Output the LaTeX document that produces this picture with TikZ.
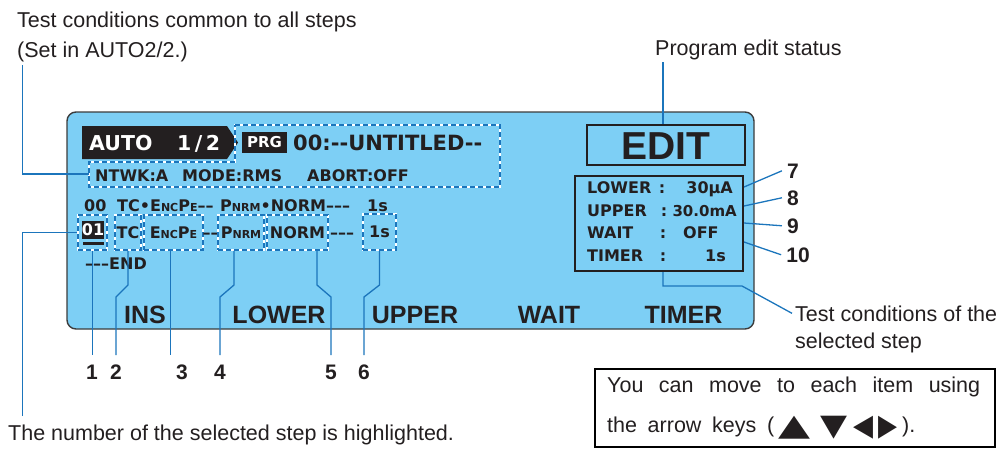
\documentclass[tikz,border=0pt]{standalone}
\usepackage{fontspec}
\usepackage{graphicx}
\setmainfont{Liberation Sans}
\newfontfamily\dispfont{DejaVu Sans}
\newfontfamily\symfont{DejaVu Sans}
\definecolor{panel}{RGB}{125,207,245}
\definecolor{lead}{RGB}{27,117,188}
\definecolor{ink}{RGB}{35,31,32}
\definecolor{panelline}{RGB}{60,60,60}
\newcommand{\dsz}[1]{\dispfont\bfseries\fontsize{#1}{#1}\selectfont}
\newcommand{\smc}[1]{{\fontsize{11}{11}\selectfont #1}}
\newcommand{\tri}[3]{\resizebox*{#1}{#2}{\symfont #3}}
\tikzset{
  lbl/.style={font=\fontsize{21.5}{26}\selectfont, text=ink, inner sep=0pt, anchor=base west},
  dsp/.style={font=\dsz{16}, text=ink, inner sep=0pt},
  dbox/.style={draw=lead, line width=1.6pt, dash pattern=on 5pt off 3pt,
    preaction={draw=white, solid, line width=1.6pt}, inner sep=0pt,
    text height=11.5pt, text depth=0pt},
  leader/.style={draw=lead, line width=1.3pt},
  num/.style={font=\bfseries\fontsize{21}{21}\selectfont, text=ink, inner sep=0pt, anchor=base},
  skey/.style={font=\bfseries\fontsize{25}{25}\selectfont, text=ink, inner sep=0pt, anchor=base},
}
\begin{document}
\begin{tikzpicture}[x=1pt,y=-1pt]
\useasboundingbox (0,0) rectangle (1005,451);
% panel
\draw[draw=panelline, line width=1.4pt, fill=panel, rounded corners=9pt] (67,112) rectangle (754,329);
% AUTO tab
\fill[ink] (82,126) -- (227,126) -- (238,142.5) -- (227,159) -- (82,159) -- cycle;
\node[font=\dsz{20.5}, text=white, inner sep=0pt, anchor=base west] (auto) at (89,150) {AUTO};
\node[font=\dsz{20.5}, text=white, inner sep=0pt, anchor=base west] (page) at (177,150) {1\,/\,2};
% dashed outline of common conditions
\draw[white, line width=1.6pt] (235,125) -- (500,125) -- (500,187) -- (89,187) -- (89,162) -- (235,162) -- cycle;
\draw[lead, line width=1.6pt, dash pattern=on 5pt off 3pt] (235,125) -- (500,125) -- (500,187) -- (89,187) -- (89,162) -- (235,162) -- cycle;
\node[fill=ink, text=white, font=\dsz{15}, minimum width=45pt, minimum height=21pt, inner sep=0pt] (prg) at (264.5,142.5) {PRG};
\node[font=\dsz{21}, text=ink, inner sep=0pt, anchor=base west] (title) at (293,150) {00:-{}-UNTITLED-{}-};
\node[dsp, anchor=base west] (ntwk) at (95,181) {NTWK:A};
\node[dsp, anchor=base west] (mode) at (182,181) {MODE:RMS};
\node[dsp, anchor=base west] (abort) at (307,181) {ABORT:OFF};
% row 1
\node[dsp, anchor=base west] (r1a) at (84,211) {00};
\node[dsp, anchor=base west] (r1b) at (117,211) {TC•E\smc{NC}P\smc{E}––};
\node[dsp, anchor=base west] (r1c) at (220,211) {P\smc{NRM}•NORM–––};
\node[dsp, anchor=base west] (r1d) at (367,211) {1s};
% row 2
\node[dsp, dbox, minimum width=29pt, minimum height=35pt] (b01) at (92.5,232.5) {};
\node[fill=ink, text=white, font=\dsz{16}, inner sep=0pt, minimum width=20pt, minimum height=18pt] (sel) at (93,230) {01};
\fill[ink] (83,242) rectangle (104,245);
\node[dsp, dbox, minimum width=26pt, minimum height=35pt] (btc) at (128,232.5) {TC};
\node[dsp, dbox, minimum width=59pt, minimum height=35pt] (benc) at (173.5,232.5) {E\smc{NC}P\smc{E}};
\node[dsp, anchor=base] (d1) at (210.5,238) {––};
\node[dsp, dbox, minimum width=46pt, minimum height=35pt] (bpn) at (241,232.5) {P\smc{NRM}};
\node[dsp, dbox, minimum width=61pt, minimum height=35pt] (bnorm) at (297.5,232.5) {NORM};
\node[dsp, anchor=base] (d2) at (342,238) {–––};
\node[dsp, dbox, minimum width=33pt, minimum height=36pt] (b1s) at (379.5,232) {1s};
\node[dsp, anchor=base west] (endr) at (85,269) {–––END};
% soft keys
\node[skey] (kins) at (145,323) {INS};
\node[skey] (klow) at (279,323) {LOWER};
\node[skey] (kup) at (415,323) {UPPER};
\node[skey] (kwait) at (549,323) {WAIT};
\node[skey] (ktim) at (683.5,323) {TIMER};
% EDIT
\node[draw=ink, line width=2.2pt, minimum width=158pt, minimum height=40pt, inner sep=0pt,
  font=\bfseries\fontsize{39}{39}\selectfont, text=ink, text height=28pt, text depth=0pt] (edit) at (666,145) {EDIT};
% parameter box
\node[draw=ink, line width=2pt, minimum width=168pt, minimum height=95pt, inner sep=0pt] (pbox) at (659,223.5) {};
\node[dsp, anchor=base west] (pl1) at (587,193) {LOWER};
\node[dsp, anchor=base] (pc1) at (662,193) {:};
\node[dsp, anchor=base east] (pv1) at (733,193) {30µA};
\node[dsp, anchor=base west] (pl2) at (587,216) {UPPER};
\node[dsp, anchor=base] (pc2) at (664,216) {:};
\node[dsp, font=\dsz{15}, anchor=base east] (pv2) at (737,216) {30.0mA};
\node[dsp, anchor=base west] (pl3) at (587,238) {WAIT};
\node[dsp, anchor=base] (pc3) at (663,238) {:};
\node[dsp, anchor=base west] (pv3) at (683,238) {OFF};
\node[dsp, anchor=base west] (pl4) at (587,261) {TIMER};
\node[dsp, anchor=base] (pc4) at (663,261) {:};
\node[dsp, anchor=base east] (pv4) at (726,261) {1s};
% numbers
\node[num] (n1) at (92,379) {1};
\node[num] (n2) at (116,379) {2};
\node[num] (n3) at (182,379) {3};
\node[num] (n4) at (220,379) {4};
\node[num] (n5) at (331,379) {5};
\node[num] (n6) at (364,379) {6};
\node[num] (n7) at (793,178) {7};
\node[num] (n8) at (793,205) {8};
\node[num] (n9) at (793,233) {9};
\node[num] (n10) at (798,262) {10};
% labels
\node[lbl] (tt1) at (17,27) {Test conditions common to all steps};
\node[lbl] (tt2) at (17,57) {(Set in AUTO2/2.)};
\node[lbl] (pes) at (655,55) {Program edit status};
\node[lbl] (tcs1) at (795,321) {Test conditions of the};
\node[lbl] (tcs2) at (795,348) {selected step};
\node[lbl] (bt) at (8,440) {The number of the selected step is highlighted.};
% note box
\node[draw=black, line width=2pt, minimum width=400pt, minimum height=78pt, inner sep=0pt] (note) at (795,408) {};
\node[lbl] (nt1) at (607,392) {\makebox[373pt][s]{You can move to each item using}};
\node[lbl] (nt2) at (607,432) {\makebox[167pt][s]{the arrow keys (}\hspace{4pt}\raisebox{-3pt}{\tri{32pt}{23pt}{▲}}\hspace{10pt}\raisebox{-3pt}{\tri{27pt}{23pt}{▼}}\hspace{6pt}\raisebox{-3pt}{\tri{20pt}{23pt}{◀}}\hspace{5pt}\raisebox{-3pt}{\tri{19pt}{23pt}{▶}}\hspace{5pt}).};
% leader coordinates
\coordinate (bot) at (0,355);
\coordinate (kn) at (0,285);
\coordinate (kn2) at (0,297);
\coordinate (tl) at (22.5,65);
\coordinate (ntw) at (89,174);
\coordinate (bl) at (22.5,416);
\coordinate (pe) at (663,62);
\coordinate (k1) at (663,286);
\coordinate (k2) at (742,286);
% leaders
\draw[leader] (tl) |- (ntw);
\draw[leader] (bl) |- (b01.west);
\draw[leader] (pe) -- (pe |- edit.north);
\draw[leader] (pe |- pbox.south) -- (k1) -- (k2) -- ([xshift=-3pt]tcs1.west);
\draw[leader] (b01.south) -- (b01.south |- bot);
\draw[leader] (btc.south) -- (btc.south |- kn) -- (n2 |- kn2) -- (n2 |- bot);
\draw[leader] ([xshift=-3pt]benc.south) -- ([xshift=-3pt]benc.south |- bot);
\draw[leader] ([xshift=-7pt]bpn.south) -- ([xshift=-7pt]bpn.south |- kn) -- (n4 |- kn2) -- (n4 |- bot);
\draw[leader] ([xshift=19.5pt]bnorm.south) -- ([xshift=19.5pt]bnorm.south |- kn) -- (n5 |- kn2) -- (n5 |- bot);
\draw[leader] (b1s.south) -- (b1s.south |- kn) -- (n6 |- kn2) -- (n6 |- bot);
\draw[leader] (pbox.east |- 0,187) -- ([xshift=-5pt]n7.west);
\draw[leader] (pbox.east |- 0,206) -- ([xshift=-5pt]n8.west);
\draw[leader] (pbox.east |- 0,223) -- ([xshift=-5pt]n9.west);
\draw[leader] (pbox.east |- 0,242) -- ([xshift=-5pt]n10.west);
\end{tikzpicture}
\end{document}
